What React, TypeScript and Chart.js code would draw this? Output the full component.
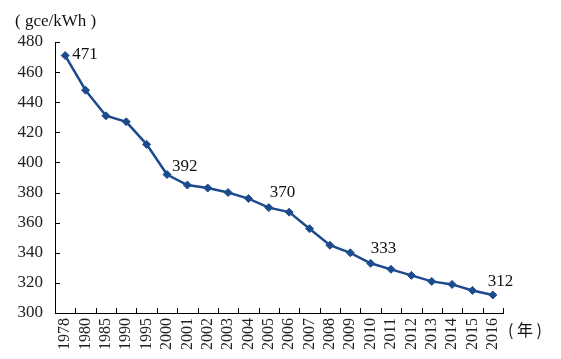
import React, { useEffect, useRef } from "react";
import { Chart, registerables } from "chart.js";

Chart.register(...registerables);

const years = [
  "1978", "1980", "1985", "1990", "1995", "2000", "2001", "2002", "2003", "2004", "2005",
  "2006", "2007", "2008", "2009", "2010", "2011", "2012", "2013", "2014", "2015", "2016",
];
const coalRate = [
  471, 448, 431, 427, 412, 392, 385, 383, 380, 376, 370,
  367, 356, 345, 340, 333, 329, 325, 321, 319, 315, 312,
];
const annotatedYears = ["1978", "2000", "2005", "2010", "2016"];
const annotationOffsets = [
  [7, -1],
  [5, -8],
  [1, -15],
  [0, -15],
  [-5, -13],
];
const yUnit = "( gce/kWh )";
const xUnit = "( 年 )";

const LINE = "#1C4B8D";
const SERIF = "'Liberation Serif', 'Times New Roman', serif";

const decorPlugin = {
  id: "decor",
  afterDraw(chart: any) {
    const ctx = chart.ctx;
    const x = chart.scales.x;
    const y = chart.scales.y;
    const area = chart.chartArea;
    ctx.save();
    ctx.strokeStyle = "#000";
    ctx.lineWidth = 1;
    y.ticks.forEach((t: any) => {
      const py = Math.round(y.getPixelForValue(t.value)) + 0.5;
      ctx.beginPath();
      ctx.moveTo(area.left, py);
      ctx.lineTo(area.left + 5, py);
      ctx.stroke();
    });
    for (let i = 0; i < years.length; i++) {
      const px = Math.round(x.getPixelForValue(i + 0.5)) + 0.5;
      ctx.beginPath();
      ctx.moveTo(px, area.bottom);
      ctx.lineTo(px, area.bottom - 5);
      ctx.stroke();
    }
    ctx.fillStyle = "#111";
    ctx.font = `17px ${SERIF}`;
    ctx.textAlign = "left";
    ctx.textBaseline = "middle";
    annotatedYears.forEach((yr, k) => {
      const idx = years.indexOf(yr);
      const px = x.getPixelForValue(idx);
      const py = y.getPixelForValue(coalRate[idx]);
      ctx.fillText(String(coalRate[idx]), px + annotationOffsets[k][0], py + annotationOffsets[k][1]);
    });
    ctx.font = `17px ${SERIF}`;
    ctx.fillText(yUnit, 15, 22);
    ctx.font = `16px 'Noto Sans CJK SC', ${SERIF}`;
    ctx.fillText(xUnit, 508, 330);
    ctx.restore();
  },
};

export default function App() {
  const ref = useRef<HTMLCanvasElement | null>(null);
  useEffect(() => {
    document.body.style.margin = "0";
    const chart = new Chart(ref.current as HTMLCanvasElement, {
      type: "line",
      data: {
        labels: years,
        datasets: [
          {
            data: coalRate,
            borderColor: LINE,
            backgroundColor: LINE,
            borderWidth: 2.5,
            pointStyle: "rectRot",
            pointRadius: 4,
            pointBorderWidth: 1,
            tension: 0,
          },
        ],
      },
      options: {
        animation: false,
        responsive: false,
        maintainAspectRatio: false,
        layout: { padding: { left: 0, top: 42, right: 58, bottom: 0 } },
        plugins: { legend: { display: false }, tooltip: { enabled: false } },
        scales: {
          x: {
            offset: true,
            grid: { display: false, drawTicks: false },
            border: { display: true, color: "#000", width: 1 },
            ticks: {
              autoSkip: false,
              minRotation: 90,
              maxRotation: 90,
              padding: 5,
              color: "#222",
              font: { family: SERIF, size: 16 },
            },
            afterFit: (s: any) => {
              s.height = 46;
            },
          },
          y: {
            min: 300,
            max: 480,
            grid: { display: false, drawTicks: false },
            border: { display: true, color: "#000", width: 1 },
            ticks: {
              stepSize: 20,
              padding: 12,
              color: "#222",
              font: { family: SERIF, size: 17 },
            },
            afterFit: (s: any) => {
              s.width = 55;
            },
          },
        },
      },
      plugins: [decorPlugin],
    });
    return () => chart.destroy();
  }, []);
  return (
    <div style={{ position: "absolute", left: 0, top: 0, width: 561, height: 359, background: "#fff" }}>
      <canvas ref={ref} width={561} height={359} style={{ width: 561, height: 359 }} />
    </div>
  );
}
